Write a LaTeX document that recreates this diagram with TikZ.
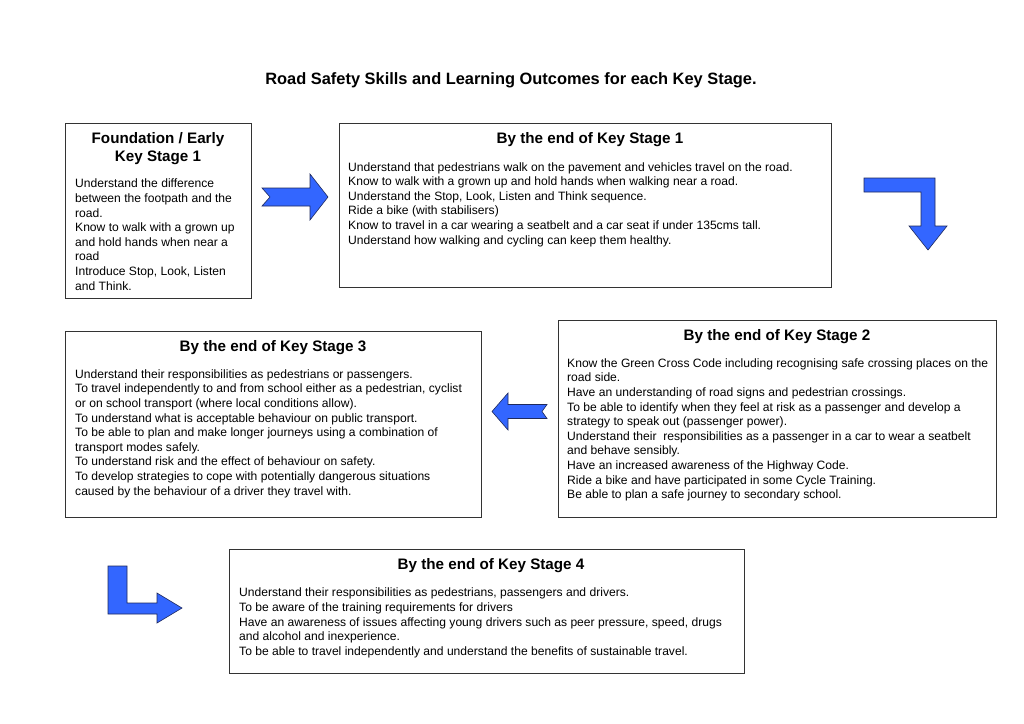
\documentclass[tikz,border=0pt]{standalone}
\usepackage{fontspec}
\setmainfont{Liberation Sans}
\usetikzlibrary{positioning}
\definecolor{arrowBlue}{HTML}{3366FF}
\definecolor{arrowEdge}{HTML}{1F2A5C}
\definecolor{boxEdge}{HTML}{333333}

\begin{document}
\begin{tikzpicture}[x=1pt, y=-1pt,
    box/.style={draw=boxEdge, line width=1pt},
    blockarrow/.style={fill=arrowBlue, draw=arrowEdge, line width=0.6pt, line join=miter},
    heading/.style={inner sep=0pt, anchor=base, font=\fontsize{15.2}{18}\selectfont\bfseries, align=center},
    body/.style={inner sep=0pt, anchor=base west, font=\fontsize{12.1}{14.6}\selectfont, align=left}]
    \useasboundingbox[fill=white] (0,0) rectangle (1024,723);
    \node[inner sep=0pt, anchor=base, font=\fontsize{16.4}{19}\selectfont\bfseries] (title) at (511,84)
      {Road Safety Skills and Learning Outcomes for each Key Stage.};

    % boxes
    \draw[box] (65,123) rectangle (251,298);
    \draw[box] (339,123) rectangle (831,287);
    \draw[box] (65,331) rectangle (481,517);
    \draw[box] (558,320) rectangle (996,517);
    \draw[box] (229,549) rectangle (744,673);

    % text nodes sit on the baseline of their last line
    % foundation
    \node[heading] (fhead) at (158,161.5) {Foundation / Early\\Key Stage 1};
    \node[body] (fbody) at (75,290) {Understand the difference\\between the footpath and the\\road.\\
      Know to walk with a grown up\\and hold hands when near a\\road\\Introduce Stop, Look, Listen\\and Think.};

    % key stage 1
    \node[heading] (kahead) at (590,143.5) {By the end of Key Stage 1};
    \node[body] (kabody) at (348,244) {Understand that pedestrians walk on the pavement and vehicles travel on the road.\\
      Know to walk with a grown up and hold hands when walking near a road.\\
      Understand the Stop, Look, Listen and Think sequence.\\
      Ride a bike (with stabilisers)\\
      Know to travel in a car wearing a seatbelt and a car seat if under 135cms tall.\\
      Understand how walking and cycling can keep them healthy.};

    % key stage 2
    \node[heading] (kbhead) at (777,340.5) {By the end of Key Stage 2};
    \node[body] (kbbody) at (567,498.7) {Know the Green Cross Code including recognising safe crossing places on the\\
      road side.\\
      Have an understanding of road signs and pedestrian crossings.\\
      To be able to identify when they feel at risk as a passenger and develop a\\
      strategy to speak out (passenger power).\\
      Understand their\ \ responsibilities as a passenger in a car to wear a seatbelt\\
      and behave sensibly.\\
      Have an increased awareness of the Highway Code.\\
      Ride a bike and have participated in some Cycle Training.\\
      Be able to plan a safe journey to secondary school.};

    % key stage 3
    \node[heading] (kchead) at (273,351.5) {By the end of Key Stage 3};
    \node[body] (kcbody) at (75,495) {Understand their responsibilities as pedestrians or passengers.\\
      To travel independently to and from school either as a pedestrian, cyclist\\
      or on school transport (where local conditions allow).\\
      To understand what is acceptable behaviour on public transport.\\
      To be able to plan and make longer journeys using a combination of\\
      transport modes safely.\\
      To understand risk and the effect of behaviour on safety.\\
      To develop strategies to cope with potentially dangerous situations\\
      caused by the behaviour of a driver they travel with.};

    % key stage 4
    \node[heading] (kdhead) at (491,569.5) {By the end of Key Stage 4};
    \node[body] (kdbody) at (239,655.2) {Understand their responsibilities as pedestrians, passengers and drivers.\\
      To be aware of the training requirements for drivers\\
      Have an awareness of issues affecting young drivers such as peer pressure, speed, drugs\\
      and alcohol and inexperience.\\
      To be able to travel independently and understand the benefits of sustainable travel.};

    % block arrows
    \draw[blockarrow] (262,188) -- (310,188) -- (310,174) -- (328,197) -- (310,220) -- (310,206) -- (262,206) -- (270,197) -- cycle;
    \draw[blockarrow] (864,178) -- (935,178) -- (935,226) -- (947,226) -- (928,250) -- (909,226) -- (921,226) -- (921,192) -- (864,192) -- cycle;
    \draw[blockarrow] (547,404.5) -- (508,404.5) -- (508,393) -- (492,411.5) -- (508,430) -- (508,418.5) -- (547,418.5) -- (542,411.5) -- cycle;
    \draw[blockarrow] (108,566) -- (127,566) -- (127,603) -- (157,603) -- (157,593) -- (182,608) -- (157,623) -- (157,614) -- (108,614) -- cycle;
\end{tikzpicture}
\end{document}
